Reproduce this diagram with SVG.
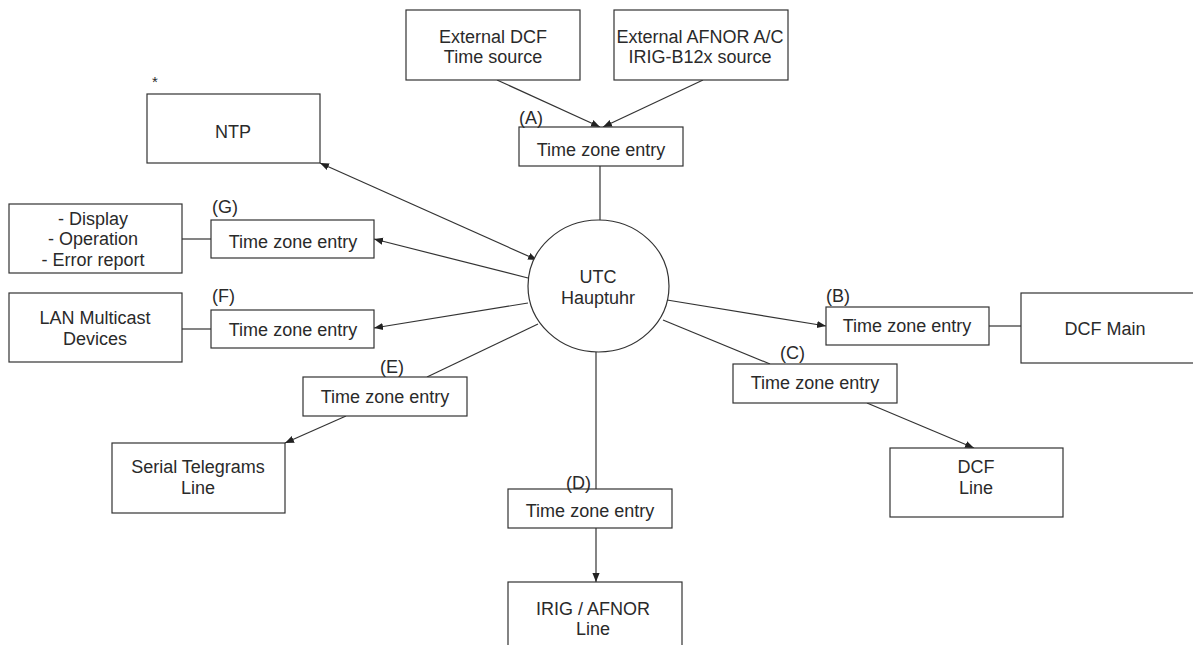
<svg xmlns="http://www.w3.org/2000/svg" width="1193" height="645" viewBox="0 0 1193 645">
<defs>
<marker id="ah" viewBox="0 0 10 10" refX="10" refY="5" markerWidth="9" markerHeight="9" markerUnits="userSpaceOnUse" orient="auto-start-reverse">
<path d="M0,1 L10,5 L0,9 Z" fill="#222"/>
</marker>
<style>
.b{fill:#fff;stroke:#333;stroke-width:1.2}
.t{font-family:"Liberation Sans",Arial,sans-serif;font-size:18px;fill:#2a2a2a;text-anchor:middle}
.l{font-family:"Liberation Sans",Arial,sans-serif;font-size:18px;fill:#2a2a2a}
.c{stroke:#333;stroke-width:1.2;fill:none}
.a{marker-end:url(#ah)}
</style>
</defs>
<rect width="1193" height="645" fill="#fff"/>
<g id="connectors">
<line class="c a" x1="497" y1="80" x2="600" y2="127"/>
<line class="c a" x1="703" y1="80" x2="603" y2="127"/>
<line class="c" x1="600" y1="166" x2="600" y2="220"/>
<line class="c a" x1="537" y1="260" x2="320" y2="163" style="marker-start:url(#ah)"/>
<line class="c a" x1="528" y1="278" x2="374" y2="239"/>
<line class="c" x1="182" y1="239" x2="211" y2="239"/>
<line class="c a" x1="528" y1="303" x2="374" y2="328"/>
<line class="c" x1="182" y1="329" x2="211" y2="329"/>
<line class="c" x1="538" y1="324" x2="427" y2="377"/>
<line class="c a" x1="346" y1="416" x2="285" y2="443"/>
<line class="c" x1="596" y1="352" x2="596" y2="489"/>
<line class="c a" x1="596" y1="528" x2="596" y2="582"/>
<line class="c a" x1="667" y1="300" x2="826" y2="326"/>
<line class="c" x1="989" y1="326" x2="1021" y2="326"/>
<line class="c" x1="663" y1="320" x2="770" y2="364"/>
<line class="c a" x1="867" y1="403" x2="974" y2="448"/>
</g>
<g id="ext-dcf"><rect class="b" x="406" y="10" width="174" height="70"/><text class="t" x="493" y="43">External DCF</text><text class="t" x="493" y="63">Time source</text></g>
<g id="ext-afnor"><rect class="b" x="614" y="10" width="174" height="70"/><text class="t" x="700" y="43">External AFNOR A/C</text><text class="t" x="700" y="63">IRIG-B12x source</text></g>
<g id="tz-a"><rect class="b" x="519" y="127" width="164" height="39"/><text class="t" x="601" y="156">Time zone entry</text><text class="l" x="519" y="124">(A)</text></g>
<g id="ntp"><rect class="b" x="147" y="94" width="173" height="69"/><text class="t" x="233" y="138">NTP</text><text class="l" x="152" y="87" style="font-size:15px">*</text></g>
<g id="display"><rect class="b" x="9" y="204" width="173" height="69"/><text class="t" x="93" y="225">- Display</text><text class="t" x="93" y="245">- Operation</text><text class="t" x="93" y="266">- Error report</text></g>
<g id="tz-g"><rect class="b" x="211" y="220" width="163" height="38"/><text class="t" x="293" y="248">Time zone entry</text><text class="l" x="212" y="213">(G)</text></g>
<g id="lan"><rect class="b" x="9" y="293" width="173" height="69"/><text class="t" x="95" y="324">LAN Multicast</text><text class="t" x="95" y="345">Devices</text></g>
<g id="tz-f"><rect class="b" x="211" y="310" width="163" height="38"/><text class="t" x="293" y="336">Time zone entry</text><text class="l" x="212" y="302">(F)</text></g>
<g id="tz-e"><rect class="b" x="303" y="377" width="164" height="39"/><text class="t" x="385" y="403">Time zone entry</text><text class="l" x="380" y="373">(E)</text></g>
<g id="serial"><rect class="b" x="112" y="443" width="173" height="70"/><text class="t" x="198" y="473">Serial Telegrams</text><text class="t" x="198" y="494">Line</text></g>
<g id="utc"><ellipse class="b" cx="598.5" cy="286" rx="70.5" ry="66"/><text class="t" x="598" y="283">UTC</text><text class="t" x="598" y="304">Hauptuhr</text></g>
<g id="tz-d"><rect class="b" x="508" y="489" width="164" height="39"/><text class="t" x="590" y="517">Time zone entry</text><text class="l" x="566" y="489">(D)</text></g>
<g id="irig"><rect class="b" x="508" y="582" width="174" height="70"/><text class="t" x="593" y="615">IRIG / AFNOR</text><text class="t" x="593" y="635">Line</text></g>
<g id="tz-b"><rect class="b" x="826" y="307" width="163" height="38"/><text class="t" x="907" y="332">Time zone entry</text><text class="l" x="826" y="302">(B)</text></g>
<g id="dcf-main"><rect class="b" x="1021" y="293" width="180" height="70"/><text class="t" x="1105" y="335">DCF Main</text></g>
<g id="tz-c"><rect class="b" x="733" y="364" width="164" height="39"/><text class="t" x="815" y="389">Time zone entry</text><text class="l" x="780" y="359">(C)</text></g>
<g id="dcf-line"><rect class="b" x="890" y="448" width="173" height="69"/><text class="t" x="976" y="473">DCF</text><text class="t" x="976" y="494">Line</text></g>
</svg>
